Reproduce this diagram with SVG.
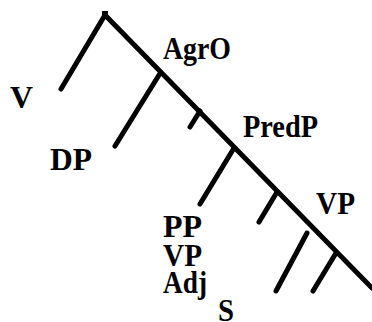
<svg xmlns="http://www.w3.org/2000/svg" width="372" height="322" viewBox="0 0 372 322">
<style>
.e{stroke:#000;stroke-width:5;fill:none;stroke-linecap:round}
.t{font-family:'Liberation Serif','Times New Roman',serif;font-weight:bold;font-size:32px;fill:#000}
</style>
<rect width="372" height="322" fill="#fff"/>
<g id="edges">
<path class="e" d="M105,15 L372,288"/>
<path class="e" d="M105,15 L61,89"/>
<path class="e" d="M159,75 L115,146"/>
<path class="e" d="M200,111 L190,127"/>
<path class="e" d="M234,148 L200,204"/>
<path class="e" d="M277,192 L259,222"/>
<path class="e" d="M307,233 L276,291"/>
<path class="e" d="M336,253 L313,291"/>
<rect x="102" y="11" width="6" height="5" fill="#000"/>
</g>
<g id="n-V"><text class="t" x="10" y="108" textLength="23" lengthAdjust="spacingAndGlyphs">V</text></g>
<g id="n-AgrO"><text class="t" x="163" y="59" textLength="68" lengthAdjust="spacingAndGlyphs">AgrO</text></g>
<g id="n-DP"><text class="t" x="50" y="170" textLength="42" lengthAdjust="spacingAndGlyphs">DP</text></g>
<g id="n-PredP"><text class="t" x="243" y="137" textLength="75" lengthAdjust="spacingAndGlyphs">PredP</text></g>
<g id="n-VP1"><text class="t" x="316" y="214" textLength="39" lengthAdjust="spacingAndGlyphs">VP</text></g>
<g id="n-PP"><text class="t" x="163" y="237" textLength="39" lengthAdjust="spacingAndGlyphs">PP</text></g>
<g id="n-VP2"><text class="t" x="163" y="266" textLength="39" lengthAdjust="spacingAndGlyphs">VP</text></g>
<g id="n-Adj"><text class="t" x="163" y="293" textLength="44" lengthAdjust="spacingAndGlyphs">Adj</text></g>
<g id="n-S"><text class="t" x="218" y="321" textLength="16" lengthAdjust="spacingAndGlyphs">S</text></g>
</svg>
